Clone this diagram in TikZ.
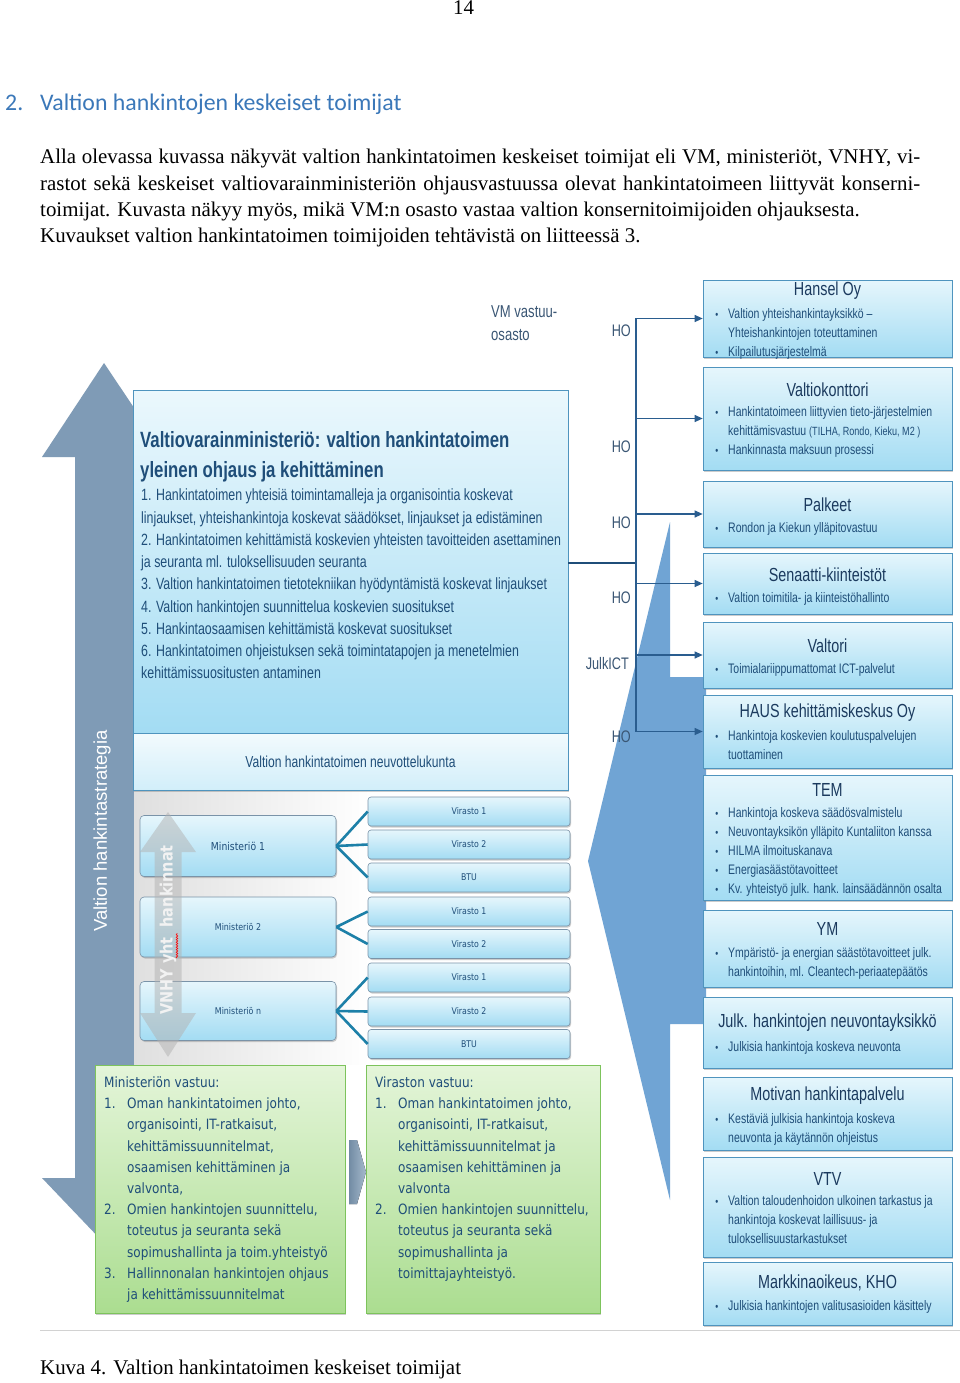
\documentclass[tikz,border=0pt]{standalone}
\usepackage{fontspec}
\setmainfont{Liberation Serif}
\newfontfamily\headfont{Carlito}
\newfontfamily\plainsans{Liberation Sans}
\newfontfamily\narrowfont[FakeStretch=0.76]{Liberation Sans}
\newfontfamily\tahomafont[FakeStretch=0.85]{DejaVu Sans}
\usepackage{xcolor}
\usetikzlibrary{arrows.meta,positioning,shadows,decorations.pathmorphing}

\newcommand\fsz[2]{\fontsize{#1}{#2}\selectfont}
\newcommand\bul{\llap{\scalebox{0.8}{\textbullet}\hspace{10pt}}}
\newcommand\nr[1]{\makebox[23pt][l]{#1}}

\definecolor{headblue}{HTML}{3B78B9}
\definecolor{txtblue}{HTML}{1F4E79}
\definecolor{navy}{HTML}{1B3A5E}
\definecolor{hogray}{HTML}{3A5674}
\definecolor{linkblue}{HTML}{2A5D8F}
\definecolor{fanteal}{HTML}{1D80A8}
\definecolor{boxtop}{HTML}{E6F6FC}
\definecolor{boxbot}{HTML}{A3DCF3}
\definecolor{boxline}{HTML}{4F94BE}
\definecolor{mingray}{HTML}{7A93A8}
\definecolor{wedgeblue}{HTML}{70A4D4}
\definecolor{stratarrow}{HTML}{7F9BB6}
\definecolor{greentop}{HTML}{E4F5D9}
\definecolor{greenbot}{HTML}{ABDD90}
\definecolor{greenline}{HTML}{7DC35C}

\begin{document}
\begin{tikzpicture}[
  x=1pt, y=-1pt,
  >={Triangle[length=8pt,width=7pt]},
  softshadow/.style={drop shadow={shadow xshift=1pt, shadow yshift=-1.5pt, opacity=0.4}},
  actor/.style={draw=boxline, line width=0.7pt, top color=boxtop, bottom color=boxbot,
                minimum width=249pt, inner sep=0pt, softshadow},
  acttitle/.style={font=\narrowfont\fsz{18.9}{21}, text=navy, inner sep=0pt},
  actitems/.style={font=\narrowfont\fsz{13.8}{19}, text=txtblue, align=left,
                   anchor=north west, inner sep=0pt},
  ho/.style={font=\narrowfont\fsz{16.7}{18}, text=hogray, anchor=east, inner sep=0pt},
  link/.style={->, draw=linkblue, line width=1.1pt},
  trunk/.style={draw=txtblue, line width=2pt},
  mainbox/.style={draw=boxline, line width=0.7pt, top color=boxtop!80!white,
                  bottom color=boxbot, inner sep=0pt, softshadow},
  strip/.style={draw=boxline, line width=0.7pt, top color=boxtop!50!white,
                bottom color=boxtop!70!boxbot, inner sep=0pt, softshadow,
                font=\narrowfont\fsz{15.9}{17}, text=txtblue},
  vvmtitle/.style={font=\narrowfont\bfseries\fsz{22.1}{30}, text=txtblue, align=left,
                   anchor=north west, inner sep=0pt},
  vvmlist/.style={font=\narrowfont\fsz{16.3}{22.25}, text=txtblue, align=left,
                  anchor=north west, inner sep=0pt},
  minbox/.style={draw=mingray, line width=0.6pt, rounded corners=4pt, top color=boxtop,
                 bottom color=boxbot, minimum width=196pt, inner sep=0pt,
                 font=\tahomafont\fsz{9.3}{12}, text=txtblue, softshadow},
  virbox/.style={draw=mingray, line width=0.6pt, rounded corners=3pt, top color=boxtop,
                 bottom color=boxbot, minimum width=202pt, minimum height=29pt, inner sep=0pt,
                 font=\tahomafont\fsz{9.2}{11}, text=txtblue, softshadow},
  fan/.style={draw=fanteal, line width=2.6pt},
  duty/.style={draw=greenline, line width=0.8pt, top color=greentop, bottom color=greenbot,
               minimum height=248pt, inner sep=0pt, softshadow},
  dutytext/.style={font=\tahomafont\fsz{14.2}{21.2}, text=txtblue, align=left,
                   anchor=north west, inner sep=0pt},
]
\useasboundingbox (0,0) rectangle (960,1383);
\fill[white] (0,0) rectangle (960,1383);

%─── Page text ───────────────────────────────────────────────────────────────
\node[anchor=base, inner sep=0pt, font=\fsz{20.9}{26}] (pgno) at (463.5,15) {14};
\node[anchor=base west, inner sep=0pt, font=\headfont\fsz{23.8}{28}, text=headblue]
      (head) at (5,111) {\makebox[35pt][l]{2.}Valtion hankintojen keskeiset toimijat};

\node[anchor=base west, inner sep=0pt, font=\fsz{20.9}{26}] (par1) at (40,164)
      {\makebox[880pt][s]{Alla olevassa kuvassa näkyvät valtion hankintatoimen keskeiset toimijat eli VM, ministeriöt, VNHY, vi-}};
\node[anchor=base west, inner sep=0pt, font=\fsz{20.9}{26}] (par2) at (40,190)
      {\makebox[880pt][s]{rastot sekä keskeiset valtiovarainministeriön ohjausvastuussa olevat hankintatoimeen liittyvät konserni-}};
\node[anchor=base west, inner sep=0pt, font=\fsz{20.9}{26}] (par3) at (40,216)
      {toimijat. Kuvasta näkyy myös, mikä VM:n osasto vastaa valtion konsernitoimijoiden ohjauksesta.};
\node[anchor=base west, inner sep=0pt, font=\fsz{20.9}{26}] (par4) at (40,242)
      {Kuvaukset valtion hankintatoimen toimijoiden tehtävistä on liitteessä 3.};

%─── Strategy arrow (left) ───────────────────────────────────────────────────
\fill[stratarrow]
      (104,363) -- (167,457) -- (134,457) -- (134,1178) -- (166,1178) -- (104,1243)
      -- (42,1178) -- (75,1178) -- (75,457) -- (42,457) -- cycle;
\node[rotate=90, inner sep=0pt, font=\plainsans\fsz{18.5}{20}, text=white]
      (strategy) at (102,831) {Valtion hankintastrategia};

% light background behind the ministries
\fill[left color=gray!25, right color=white] (134,790) rectangle (370,1064);

%─── Blue wedge behind the connectors ────────────────────────────────────────
\fill[wedgeblue]
      (670,522) -- (588,861) -- (670,1200) -- (670,1024) -- (706,1024)
      -- (706,677) -- (670,677) -- cycle;

%─── VM main box ─────────────────────────────────────────────────────────────
\node[mainbox, minimum width=435pt, minimum height=343pt] (vvm) at (350.5,561.5) {};
\node[strip, minimum width=435pt, minimum height=57pt] (neuvo) at (350.5,761.5)
      {Valtion hankintatoimen neuvottelukunta};
\node[vvmtitle] (vvm-h) at (140,431.3)
      {Valtiovarainministeriö: valtion hankintatoimen\\yleinen ohjaus ja kehittäminen};
\node[vvmlist] (vvm-t) at (141,488.9)
      {1. Hankintatoimen yhteisiä toimintamalleja ja organisointia koskevat\\
       linjaukset, yhteishankintoja koskevat säädökset, linjaukset ja edistäminen\\
       2. Hankintatoimen kehittämistä koskevien yhteisten tavoitteiden asettaminen\\
       ja seuranta ml. tuloksellisuuden seuranta\\
       3. Valtion hankintatoimen tietotekniikan hyödyntämistä koskevat linjaukset\\
       4. Valtion hankintojen suunnittelua koskevien suositukset\\
       5. Hankintaosaamisen kehittämistä koskevat suositukset\\
       6. Hankintatoimen ohjeistuksen sekä toimintatapojen ja menetelmien\\
       kehittämissuositusten antaminen};

%─── Ministries and agencies ─────────────────────────────────────────────────
\node[minbox, minimum height=61pt, font=\tahomafont\fsz{10.9}{12}] (min1) at (238,846) {Ministeriö 1};
\node[minbox, minimum height=60pt] (min2) at (238,927) {Ministeriö 2};
\node[minbox, minimum height=59pt] (minn) at (238,1011) {Ministeriö n};

\foreach \nm/\yc/\lbl in {v11/811.5/Virasto 1, v12/844.5/Virasto 2, v13/877.5/BTU,
                          v21/911.5/Virasto 1, v22/944/Virasto 2,
                          vn1/977.5/Virasto 1, vn2/1011.5/Virasto 2, vn3/1044/BTU} {
  \node[virbox] (\nm) at (469,\yc) {\lbl};
}
\foreach \v in {v11,v12,v13} { \draw[fan] (min1.east) -- (\v.west); }
\foreach \v in {v21,v22}     { \draw[fan] (min2.east) -- (\v.west); }
\foreach \v in {vn1,vn2,vn3} { \draw[fan] (minn.east) -- (\v.west); }

% VNHY double arrow over the ministries
\fill[gray!60, opacity=0.5]
      (168,812) -- (196,852) -- (181.5,852) -- (181.5,1013) -- (196,1013) -- (168,1057)
      -- (140,1013) -- (154.5,1013) -- (154.5,852) -- (140,852) -- cycle;
\node[rotate=90, inner sep=0pt, font=\tahomafont\bfseries\fsz{17}{20}, text=white!90!gray]
      (vnhy) at (168,930) {VNHY yht\ \ hankinnat};
\draw[red, line width=0.6pt, decorate,
      decoration={snake, amplitude=0.8pt, segment length=2.5pt}] (177,958) -- (177,933);

%─── Responsibilities (green) ────────────────────────────────────────────────
\node[duty, minimum width=250pt] (mindty) at (220,1189) {};
\node[duty, minimum width=234pt] (virdty) at (483,1189) {};
\fill[left color=stratarrow!90!black, right color=stratarrow!70!white]
      (349,1140) -- (357,1140) -- (366,1172) -- (357,1204) -- (349,1204) -- cycle;

\node[dutytext] (mindty-t) at (104,1076.4)
      {Ministeriön vastuu:\\
       \nr{1.}Oman hankintatoimen johto,\\
       \nr{}organisointi, IT-ratkaisut,\\
       \nr{}kehittämissuunnitelmat,\\
       \nr{}osaamisen kehittäminen ja\\
       \nr{}valvonta,\\
       \nr{2.}Omien hankintojen suunnittelu,\\
       \nr{}toteutus ja seuranta sekä\\
       \nr{}sopimushallinta ja toim.yhteistyö\\
       \nr{3.}Hallinnonalan hankintojen ohjaus\\
       \nr{}ja kehittämissuunnitelmat};
\node[dutytext] (virdty-t) at (375,1076.4)
      {Viraston vastuu:\\
       \nr{1.}Oman hankintatoimen johto,\\
       \nr{}organisointi, IT-ratkaisut,\\
       \nr{}kehittämissuunnitelmat ja\\
       \nr{}osaamisen kehittäminen ja\\
       \nr{}valvonta\\
       \nr{2.}Omien hankintojen suunnittelu,\\
       \nr{}toteutus ja seuranta sekä\\
       \nr{}sopimushallinta ja\\
       \nr{}toimittajayhteistyö.};

%─── Group actors (right column) ─────────────────────────────────────────────
\foreach \nm/\yc/\hh/\ty/\ly/\ttl/\itm in {
  hansel/318.5/77/291/313/{Hansel Oy}/{\bul Valtion yhteishankintayksikkö –\\Yhteishankintojen toteuttaminen\\\bul Kilpailutusjärjestelmä},
  valtiok/418.5/103/390/411/{Valtiokonttori}/{\bul Hankintatoimeen liittyvien tieto-järjestelmien\\kehittämisvastuu {\fsz{11.9}{19}(TILHA, Rondo, Kieku, M2 )}\\\bul Hankinnasta maksuun prosessi},
  palkeet/514/66/505/527/{Palkeet}/{\bul Rondon ja Kiekun ylläpitovastuu},
  senaatti/583.5/61/575/597/{Senaatti-kiinteistöt}/{\bul Valtion toimitila- ja kiinteistöhallinto},
  valtori/655/66/646/668/{Valtori}/{\bul Toimialariippumattomat ICT-palvelut},
  haus/731.5/73/713/735/{HAUS kehittämiskeskus Oy}/{\bul Hankintoja koskevien koulutuspalvelujen\\tuottaminen},
  tem/837.5/125/790/812/{TEM}/{\bul Hankintoja koskeva säädösvalmistelu\\\bul Neuvontayksikön ylläpito Kuntaliiton kanssa\\\bul HILMA ilmoituskanava\\\bul Energiasäästötavoitteet\\\bul Kv. yhteistyö julk. hank. lainsäädännön osalta},
  ym/948.5/77/929/952/{YM}/{\bul Ympäristö- ja energian säästötavoitteet julk.\\hankintoihin, ml. Cleantech-periaatepäätös},
  julk/1032.5/71/1023/1046/{Julk. hankintojen neuvontayksikkö}/{\bul Julkisia hankintoja koskeva neuvonta},
  motiva/1113.5/73/1096/1118/{Motivan hankintapalvelu}/{\bul Kestäviä julkisia hankintoja koskeva\\neuvonta ja käytännön ohjeistus},
  vtv/1207/100/1179/1200/{VTV}/{\bul Valtion taloudenhoidon ulkoinen tarkastus ja\\hankintoja koskevat laillisuus- ja\\tuloksellisuustarkastukset},
  mao/1293.5/63/1283/1305/{Markkinaoikeus, KHO}/{\bul Julkisia hankintojen valitusasioiden käsittely}} {
  \node[actor, minimum height=\hh pt] (\nm) at (827.5,\yc) {};
  \node[acttitle] (\nm-h) at (827.5,\ty) {\ttl};
  \node[actitems] (\nm-t) at (728,\ly-5.1) {\itm};
}

%─── VM department labels and links ──────────────────────────────────────────
\node[anchor=north west, inner sep=0pt, align=left, font=\narrowfont\fsz{17.2}{23}, text=hogray]
      (vmdept) at (491,305.6) {VM vastuu-\\osasto};
\node[ho] (ho1) at (631,331) {HO};
\node[ho] (ho2) at (631,447) {HO};
\node[ho] (ho3) at (631,523) {HO};
\node[ho] (ho4) at (631,598) {HO};
\node[ho] (ho5) at (629,664) {JulkICT};
\node[ho] (ho6) at (631,737) {HO};

\coordinate (hub) at (636,563);
\draw[trunk] (vvm.east |- hub) -- (hub);
\foreach \t in {hansel,valtiok,palkeet,senaatti,valtori,haus} {
  \draw[link] (hub) |- (\t.west);
}

%─── Caption ─────────────────────────────────────────────────────────────────
\draw[gray!35, line width=0.8pt] (40,1330) -- (960,1330);
\node[anchor=base west, inner sep=0pt, font=\fsz{20.9}{26}] (caption) at (40,1374)
      {Kuva 4. Valtion hankintatoimen keskeiset toimijat};

\end{tikzpicture}
\end{document}
